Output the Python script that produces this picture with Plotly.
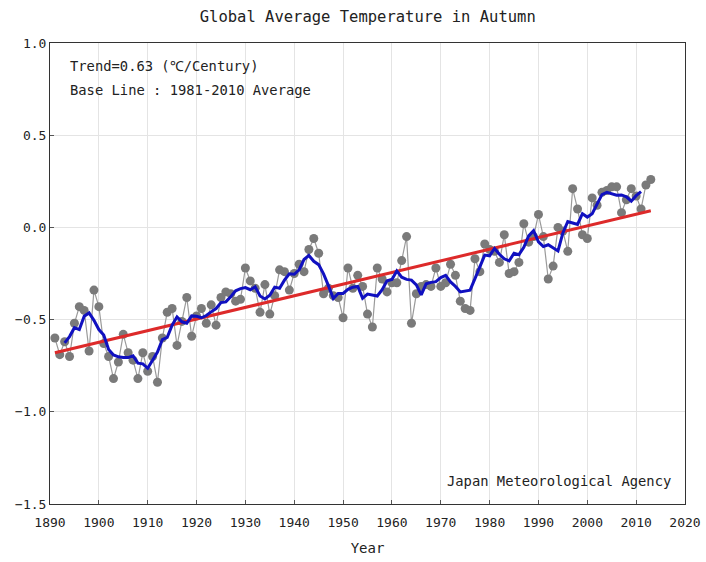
import plotly.graph_objects as go
import pandas as pd

years = list(range(1891, 2014))
anomaly = [
    -0.60, -0.69, -0.62, -0.70, -0.52, -0.43, -0.45, -0.67, -0.34, -0.43,  # 1891-1900
    -0.63, -0.70, -0.82, -0.73, -0.58, -0.68, -0.72, -0.82, -0.68, -0.78,  # 1901-1910
    -0.70, -0.84, -0.60, -0.46, -0.44, -0.64, -0.51, -0.38, -0.59, -0.48,  # 1911-1920
    -0.44, -0.52, -0.42, -0.53, -0.38, -0.35, -0.36, -0.40, -0.39, -0.22,  # 1921-1930
    -0.29, -0.33, -0.46, -0.31, -0.47, -0.37, -0.23, -0.24, -0.34, -0.25,  # 1931-1940
    -0.20, -0.24, -0.12, -0.06, -0.14, -0.36, -0.33, -0.37, -0.38, -0.49,  # 1941-1950
    -0.22, -0.33, -0.26, -0.32, -0.47, -0.54, -0.22, -0.28, -0.35, -0.30,  # 1951-1960
    -0.30, -0.18, -0.05, -0.52, -0.36, -0.32, -0.31, -0.32, -0.22, -0.32,  # 1961-1970
    -0.30, -0.20, -0.26, -0.40, -0.44, -0.45, -0.17, -0.24, -0.09, -0.12,  # 1971-1980
    -0.13, -0.19, -0.04, -0.25, -0.24, -0.19, 0.02, -0.08, -0.05, 0.07,    # 1981-1990
    -0.05, -0.28, -0.21, 0.00, -0.02, -0.13, 0.21, 0.10, -0.04, -0.06,     # 1991-2000
    0.16, 0.12, 0.19, 0.20, 0.22, 0.22, 0.08, 0.15, 0.21, 0.17,            # 2001-2010
    0.10, 0.23, 0.26,                                                      # 2011-2013
]

# 5-year running mean (centered), as drawn by the blue curve
running_mean = pd.Series(anomaly, index=years).rolling(5, center=True).mean()

trend_years = [1891, 2013]
trend_values = [-0.68, 0.09]

x_ticks = list(range(1890, 2021, 10))
y_ticks = [1.0, 0.5, 0.0, -0.5, -1.0, -1.5]

FONT = "DejaVu Sans Mono"
TXT = "#222222"

fig = go.Figure()
fig.add_trace(go.Scatter(
    x=years, y=anomaly, mode="lines+markers",
    line=dict(color="#9a9a9a", width=1.2),
    marker=dict(color="#7a7a7a", size=9, line=dict(width=0)),
    showlegend=False, hoverinfo="x+y"))
fig.add_trace(go.Scatter(
    x=trend_years, y=trend_values, mode="lines",
    line=dict(color="#dd2a2a", width=3), showlegend=False))
fig.add_trace(go.Scatter(
    x=running_mean.index, y=running_mean.values, mode="lines",
    line=dict(color="#1010c0", width=3), showlegend=False))

axis_common = dict(
    showline=True, linecolor="#333333", linewidth=1, mirror=True,
    showgrid=True, gridcolor="#e4e4e4", gridwidth=1,
    ticks="inside", ticklen=4, tickcolor="#555555",
    zeroline=False, automargin=False,
    tickfont=dict(family=FONT, size=13, color=TXT),
)

fig.update_layout(
    width=706, height=562,
    paper_bgcolor="white", plot_bgcolor="white",
    margin=dict(l=50, r=21, t=43, b=58),
    title=dict(text="Global Average Temperature in Autumn",
               x=(50.5 + 685) / 2 / 706, xanchor="center",
               y=1 - 17 / 562, yanchor="middle",
               font=dict(family=FONT, size=15.5, color=TXT)),
    xaxis=dict(range=[1890, 2020], tickvals=x_ticks, ticklabelstandoff=6,
               title=dict(text="Year", font=dict(family=FONT, size=14, color=TXT), standoff=14),
               **axis_common),
    yaxis=dict(range=[-1.5, 1.0], tickvals=y_ticks, tickformat=".1f",
               **axis_common),
    annotations=[
        dict(text="Trend=0.63 (℃/Century)", xref="paper", yref="paper",
             x=0.028, y=0.951, xanchor="left", yanchor="middle", showarrow=False,
             font=dict(family=FONT, size=13.8, color=TXT)),
        dict(text="Base Line : 1981-2010 Average", xref="paper", yref="paper",
             x=0.028, y=0.899, xanchor="left", yanchor="middle", showarrow=False,
             font=dict(family=FONT, size=13.8, color=TXT)),
        dict(text="Japan Meteorological Agency", xref="paper", yref="paper",
             x=0.981, y=0.05, xanchor="right", yanchor="middle", showarrow=False,
             font=dict(family=FONT, size=13.8, color=TXT)),
    ],
)

fig.write_html(
    "out.html",
    config={"displayModeBar": False},
    post_script="document.body.style.margin='0';document.body.style.overflow='hidden';",
)
